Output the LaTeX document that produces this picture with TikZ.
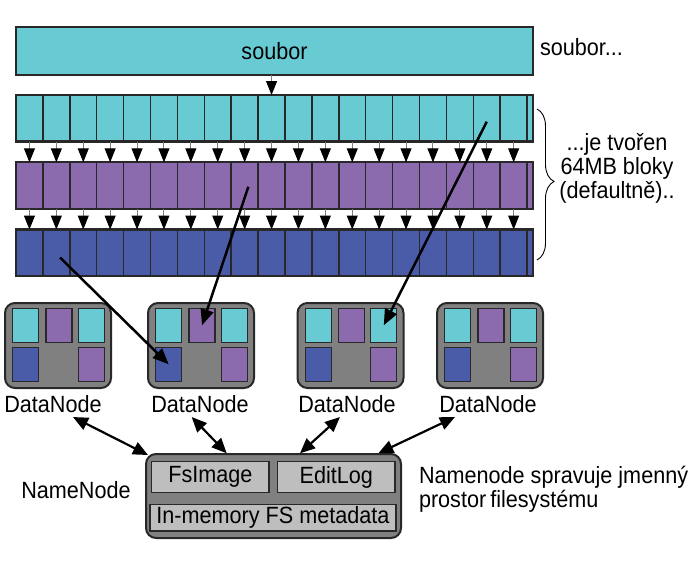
\documentclass[tikz,border=0pt]{standalone}
\usepackage{fontspec}
\setmainfont{Liberation Sans}[FakeStretch=0.92]
\usetikzlibrary{arrows.meta,decorations.pathreplacing,calc}
\definecolor{ccyan}{RGB}{104,203,212}
\definecolor{cpurple}{RGB}{139,106,174}
\definecolor{cblue}{RGB}{74,91,168}
\definecolor{cdark}{RGB}{40,40,40}
\definecolor{cgray}{RGB}{128,128,128}
\definecolor{clight}{RGB}{190,190,190}
\begin{document}
\begin{tikzpicture}[x=1pt,y=-1pt,
  every node/.style={font=\fontsize{23.5}{24}\selectfont, inner sep=0pt, outer sep=0pt},
  blk/.style={draw=cdark, line width=1.5pt, minimum width=26.9pt, minimum height=46.5pt, anchor=north west},
  rowframe/.style={draw=cdark, line width=2.2pt},
  down/.style={draw=cdark!60, line width=1pt, -{Triangle[length=14pt,width=11pt,color=black]}},
  dnbox/.style={draw=cdark, fill=cgray, rounded corners=10pt, line width=2pt, minimum width=106pt, minimum height=85pt, anchor=north west},
  dcell/.style={draw=cdark, line width=1.3pt, minimum width=26pt, minimum height=34pt, anchor=north west},
  inbox/.style={draw=cdark, fill=clight, line width=1.3pt, anchor=north west},
  link/.style={line width=2.5pt, black, -{Triangle[length=16pt,width=13pt]}},
  dbl/.style={line width=2.2pt, black, {Triangle[length=15pt,width=13pt]}-{Triangle[length=15pt,width=13pt]}}
]
\useasboundingbox (0,0) rectangle (697,562);

% file
\node[draw=cdark, fill=ccyan, line width=1.6pt, minimum width=517pt, minimum height=48pt, anchor=north west] (file) at (16,27) {soubor};
\node[anchor=west] (filenote) at (540,47) {soubor...};

% block rows
\foreach \r/\y/\c in {a/95/ccyan, b/162.3/cpurple, c/229.5/cblue} {
  \foreach \i in {0,...,18} {
    \node[blk, fill=\c] (\r\i) at ({16+26.9*\i},{\y}) {};
  }
  \node[blk, fill=\c, minimum width=5.9pt] (\r s) at (527.1,{\y}) {};
  \draw[rowframe] (16,{\y}) rectangle (533,{\y+46.5});
}
\draw[down] (a9.north |- file.south) -- (a9.north);
\foreach \i in {0,...,18} {
  \draw[down] (a\i.south) -- (b\i.north);
  \draw[down] (b\i.south) -- (c\i.north);
}

% brace and note
\draw[line width=0.9pt, decorate, decoration={brace, amplitude=17pt, aspect=0.48}] (537,109) -- (537,260);
\node[align=center] (blocknote) at (617,168) {...je tvořen\\64MB bloky\\(defaultně)..};

% data nodes
\foreach \k/\x/\lx in {1/5/53, 2/148/200, 3/297.5/347, 4/437/488} {
  \node[dnbox] (dn\k) at (\x,303) {};
  \node[dcell, fill=ccyan]   (dn\k c1) at ({\x+7.7},308.3) {};
  \node[dcell, fill=cpurple] (dn\k c2) at ({\x+41},308.3) {};
  \node[dcell, fill=ccyan]   (dn\k c3) at ({\x+73.3},308.3) {};
  \node[dcell, fill=cblue]   (dn\k c4) at ({\x+7.7},347.3) {};
  \node[dcell, fill=cpurple] (dn\k c6) at ({\x+73.3},347.3) {};
  \node (lbl\k) at (\lx,404) {DataNode};
}

% block placement links
\coordinate (sA) at ($(c1.center)+(3.7,4.8)$);
\coordinate (sB) at ($(b8.center)+(3.7,1.2)$);
\coordinate (sC) at ($(a17.center)+(0,3.4)$);
\draw[link] (sA) -- (dn2c4.center);
\draw[link] (sB) -- (dn2c2.center);
\draw[link] (sC) -- (dn3c3.center);

% name node
\node[draw=cdark, fill=cgray, rounded corners=10pt, line width=2pt, minimum width=255pt, minimum height=84pt, anchor=north west] (nn) at (146,454) {};
\node[inbox, minimum width=117.3pt, minimum height=31pt] (fsimg) at (151.7,461.7) {FsImage};
\node[inbox, minimum width=117.3pt, minimum height=31pt] (editlog) at (277.7,461.7) {EditLog};
\node[inbox, minimum width=246pt, minimum height=26.7pt] (meta) at (150,504.3) {In-memory FS metadata};
\node (nnlabel) at (76,490) {NameNode};
\node[anchor=west, align=left] (nntext) at (419,489) {Namenode spravuje jmenný\\prostor\hspace{-2pt} filesystému};

\draw[dbl] ($(lbl1.south)+(20,4.4)$) -- ($(nn.north west)+(2,1)$);
\draw[dbl] ($(lbl2.south)+(-8.3,4.4)$) -- ($(nn.north west)+(80.7,-0.7)$);
\draw[dbl] ($(lbl3.south)+(-7,4.4)$) -- ($(nn.north west)+(154,-0.7)$);
\draw[dbl] ($(lbl4.south)+(-33,4.4)$) -- ($(nn.north west)+(232.3,-0.7)$);
\end{tikzpicture}
\end{document}
